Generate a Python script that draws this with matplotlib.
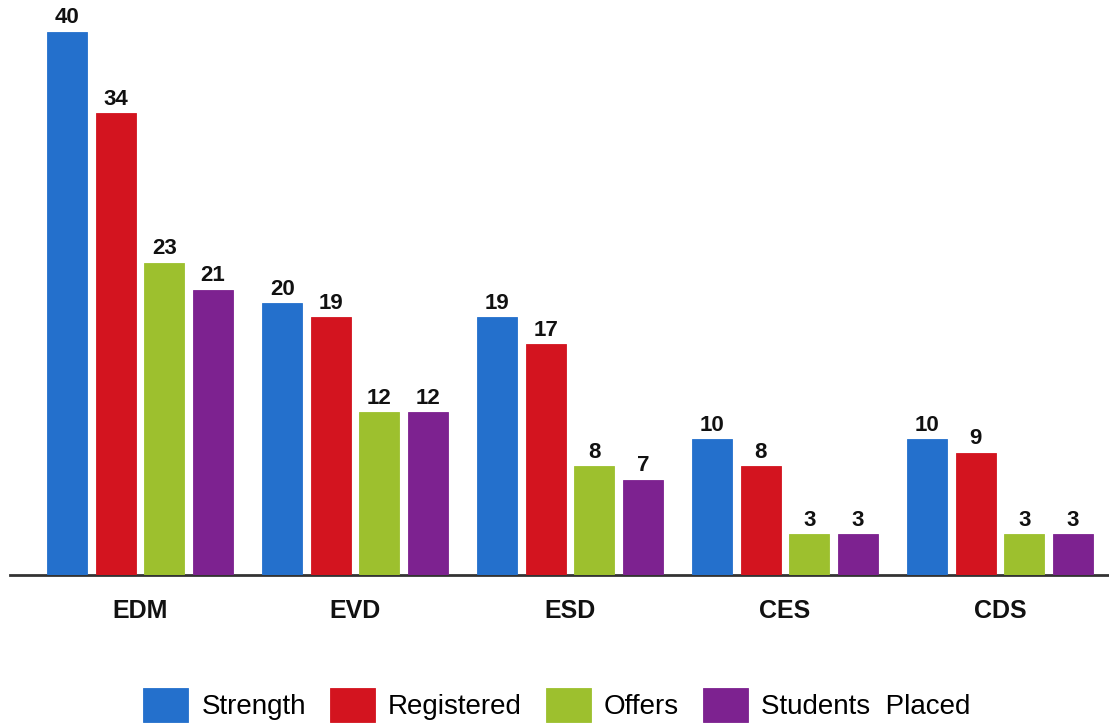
import matplotlib
matplotlib.use("Agg")
import matplotlib.pyplot as plt
import numpy as np

# programme-wise placement figures
programmes = ["EDM", "EVD", "ESD", "CES", "CDS"]
strength = [40, 20, 19, 10, 10]
registered = [34, 19, 17, 8, 9]
offers = [23, 12, 8, 3, 3]
placed = [21, 12, 7, 3, 3]

series_names = ["Strength", "Registered", "Offers", "Students  Placed"]
series_colors = ["#2470cc", "#d3141f", "#9dc02e", "#7d2290"]

plt.rcParams["font.family"] = ["Liberation Sans", "DejaVu Sans"]

fig = plt.figure(figsize=(11.09, 7.26), dpi=100)
ax = fig.add_axes([10 / 1109, 151 / 726, 1099 / 1109, 575 / 726])

x = np.arange(len(programmes))
bar_w = 0.187
step = 0.2256
offsets = (np.arange(4) - 1.5) * step

handles = []
for k, vals in enumerate([strength, registered, offers, placed]):
    bars = ax.bar(x + offsets[k], vals, width=bar_w, color=series_colors[k],
                  edgecolor=series_colors[k], linewidth=0.6, zorder=2,
                  label=series_names[k])
    handles.append(bars)
    for b, v in zip(bars, vals):
        ax.annotate(str(v), (b.get_x() + b.get_width() / 2, v),
                    xytext=(0, 2.5), textcoords="offset points",
                    ha="center", va="bottom", fontsize=16, fontweight="bold",
                    color="#111111")

ax.set_xlim(-0.605, 4.507)
ax.set_ylim(0, 42.35)

for s in ["top", "right", "left"]:
    ax.spines[s].set_visible(False)
ax.spines["bottom"].set_color("#333333")
ax.spines["bottom"].set_linewidth(2)
ax.spines["bottom"].set_zorder(1)

ax.set_yticks([])
ax.set_xticks(x)
ax.set_xticklabels(programmes, fontsize=18, fontweight="bold", color="#111111")
ax.tick_params(axis="x", length=0, pad=17)

fig.legend(handles=handles, labels=series_names, loc="center",
           bbox_to_anchor=(0.502, 0.029), ncol=4, frameon=False,
           prop={"size": 20},
           handlelength=1.62, handleheight=1.5, handletextpad=0.47,
           columnspacing=0.86)

fig.savefig("out.png", dpi=100)
